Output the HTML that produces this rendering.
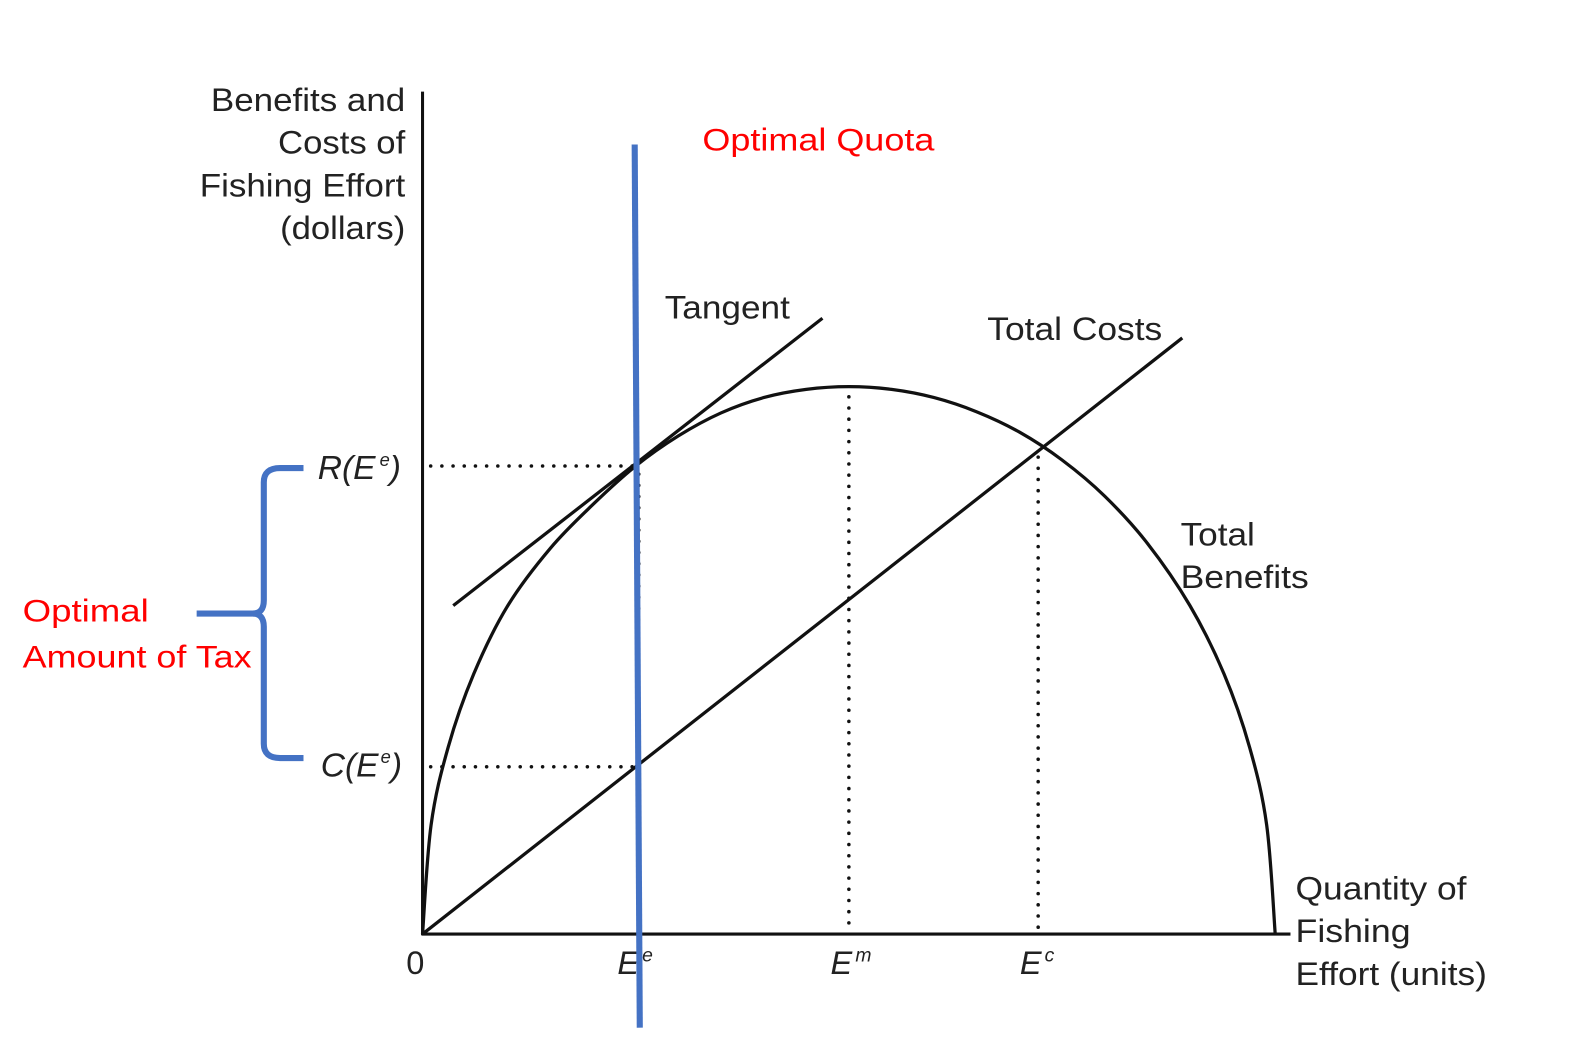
<!DOCTYPE html>
<html><head><meta charset="utf-8">
<style>
html,body{margin:0;padding:0;background:#fff;}
svg{display:block;}
text{font-family:"Liberation Sans",Arial,sans-serif;}
</style></head>
<body>
<svg id="chart" width="1596" height="1046" viewBox="0 0 1568 1028" xmlns="http://www.w3.org/2000/svg">
  <g id="plot"></g>
  <line x1="415" y1="90" x2="415" y2="919" stroke="#111" stroke-width="3"/>
  <line x1="414" y1="918" x2="1268" y2="918" stroke="#111" stroke-width="3"/>
  <g font-size="32" fill="#222" text-anchor="end">
    <text x="398" y="109" textLength="191" lengthAdjust="spacingAndGlyphs">Benefits and</text>
    <text x="398" y="151" textLength="125" lengthAdjust="spacingAndGlyphs">Costs of</text>
    <text x="398" y="193" textLength="202" lengthAdjust="spacingAndGlyphs">Fishing Effort</text>
    <text x="398" y="235" textLength="123" lengthAdjust="spacingAndGlyphs">(dollars)</text>
  </g>
  <g font-size="32" fill="#222">
    <text x="1273" y="884" textLength="168" lengthAdjust="spacingAndGlyphs">Quantity of</text>
    <text x="1273" y="926" textLength="113" lengthAdjust="spacingAndGlyphs">Fishing</text>
    <text x="1273" y="968" textLength="188" lengthAdjust="spacingAndGlyphs">Effort (units)</text>
  </g>
  <text x="653" y="313" font-size="32" fill="#222" textLength="123" lengthAdjust="spacingAndGlyphs">Tangent</text>
  <text x="970" y="334" font-size="32" fill="#222" textLength="172" lengthAdjust="spacingAndGlyphs">Total Costs</text>
  <g font-size="32" fill="#222">
    <text x="1160" y="536" textLength="73" lengthAdjust="spacingAndGlyphs">Total</text>
    <text x="1160" y="578" textLength="126" lengthAdjust="spacingAndGlyphs">Benefits</text>
  </g>
  <g font-size="33" fill="#222" font-style="italic">
    <text x="312" y="471">R(E<tspan font-size="18" dy="-13" dx="4">e</tspan><tspan dy="13">)</tspan></text>
    <text x="315" y="763">C(E<tspan font-size="18" dy="-13" dx="2">e</tspan><tspan dy="13">)</tspan></text>
  </g>
  <g id="ticks" font-size="32" fill="#222"></g>
  <text x="690" y="148" font-size="31" fill="#f00" textLength="228" lengthAdjust="spacingAndGlyphs">Optimal Quota</text>
  <g font-size="31" fill="#f00">
    <text x="22" y="611" textLength="124" lengthAdjust="spacingAndGlyphs">Optimal</text>
    <text x="22" y="656" textLength="225" lengthAdjust="spacingAndGlyphs">Amount of Tax</text>
  </g>
  <path d="M298,460 L275,460 Q259,460 259,474 L259,590 Q259,603 248,603 L193,603 M248,603 Q259,603 259,616 L259,731 Q259,745 275,745 L298,745" fill="none" stroke="#4472C4" stroke-width="6"/>
</svg>
<script>
// ---- data ----
const effortSamples = [0,1,3,6,10,15,20,25,30,35,40,45,50,55,60,65,70,75,80,85,90,94,97,99,100];
const benefitValues = [0,19.9,34.1,47.5,60,70.5,78.5,85.5,91.0,95.2,98.0,99.5,100,99.5,98,95.4,91.7,86.6,80,71.4,60,47.5,34.1,19.9,0];
const costEffort = [0,89.1];
const costValues = [0,108.9];
const tangentEffort = [3.6,46.9];
const tangentValues = [60.0,112.5];
const tickLabels = ["0","E","E","E"];
const tickSupers = ["","e","m","c"];
const tickEfforts = [0,25,50,72.2];
const optimalEffort = 25;

// ---- scales ----
const X0=415, XW=838, Y0=918, YH=538;
function xs(e){return X0 + e/100*XW;}
function ys(v){return Y0 - v/100*YH;}
function benefitAt(e){
  for(let i=0;i<effortSamples.length-1;i++){
    if(e>=effortSamples[i]&&e<=effortSamples[i+1]){
      const t=(e-effortSamples[i])/(effortSamples[i+1]-effortSamples[i]);
      return benefitValues[i]+t*(benefitValues[i+1]-benefitValues[i]);
    }
  }
  return 0;
}
function costAt(e){return costValues[0]+(e-costEffort[0])*(costValues[1]-costValues[0])/(costEffort[1]-costEffort[0]);}

const NS="http://www.w3.org/2000/svg";
const plot=document.getElementById('plot');
function mk(tag,attrs,parent){const el=document.createElementNS(NS,tag);for(const k in attrs)el.setAttribute(k,attrs[k]);(parent||plot).appendChild(el);return el;}

const pts=effortSamples.map((e,i)=>[xs(e),ys(benefitValues[i])]);
let d="M"+pts[0][0]+","+pts[0][1];
for(let i=0;i<pts.length-1;i++){
  const p0=pts[Math.max(0,i-1)],p1=pts[i],p2=pts[i+1],p3=pts[Math.min(pts.length-1,i+2)];
  const c1=[p1[0]+(p2[0]-p0[0])/6,p1[1]+(p2[1]-p0[1])/6];
  const c2=[p2[0]-(p3[0]-p1[0])/6,p2[1]-(p3[1]-p1[1])/6];
  d+=` C${c1[0]},${c1[1]} ${c2[0]},${c2[1]} ${p2[0]},${p2[1]}`;
}
const bc=mk('path',{d:d,fill:'none',stroke:'#111','stroke-width':3.2});



const cl=mk('line',{x1:xs(costEffort[0]),y1:ys(costValues[0]),x2:xs(costEffort[1]),y2:ys(costValues[1]),stroke:'#111','stroke-width':3.2});



const tl=mk('line',{x1:xs(tangentEffort[0]),y1:ys(tangentValues[0]),x2:xs(tangentEffort[1]),y2:ys(tangentValues[1]),stroke:'#111','stroke-width':3.2});



const dot={stroke:'#111','stroke-width':3.5,'stroke-dasharray':'0 11','stroke-linecap':'round'};
function guide(x1,y1,x2,y2,name){
  const g=mk('line',Object.assign({x1:x1,y1:y1,x2:x2,y2:y2},dot));
  
  
}
guide(xs(0)+8,ys(benefitAt(optimalEffort)),xs(optimalEffort),ys(benefitAt(optimalEffort)),'r-ee-guide');
guide(xs(0)+8,ys(costAt(optimalEffort)),xs(optimalEffort),ys(costAt(optimalEffort)),'c-ee-guide');
guide(xs(tickEfforts[2]),ys(benefitAt(tickEfforts[2]))+10,xs(tickEfforts[2]),Y0,'em-guide');
guide(xs(tickEfforts[3]),ys(costAt(tickEfforts[3]))+6,xs(tickEfforts[3]),Y0,'ec-guide');
guide(xs(optimalEffort)+3,ys(benefitAt(optimalEffort))+8,xs(optimalEffort)+3,Y0,'ee-guide');

const ticks=document.getElementById('ticks');
tickEfforts.forEach((e,i)=>{
  const t=mk('text',{x:xs(e)-(i===0?16:18),y:957,'font-style':i===0?'normal':'italic'},ticks);
  
  
  t.textContent=tickLabels[i];
  if(tickSupers[i]){
    const s=document.createElementNS(NS,'tspan');
    s.setAttribute('font-size','19');s.setAttribute('dy','-12');s.setAttribute('dx','3');
    s.textContent=tickSupers[i];t.appendChild(s);
  }
});

const q=mk('line',{x1:xs(optimalEffort)-1,y1:142,x2:xs(optimalEffort)+4,y2:1010,stroke:'#4472C4','stroke-width':6},document.getElementById('chart'));


</script>
</body></html>
